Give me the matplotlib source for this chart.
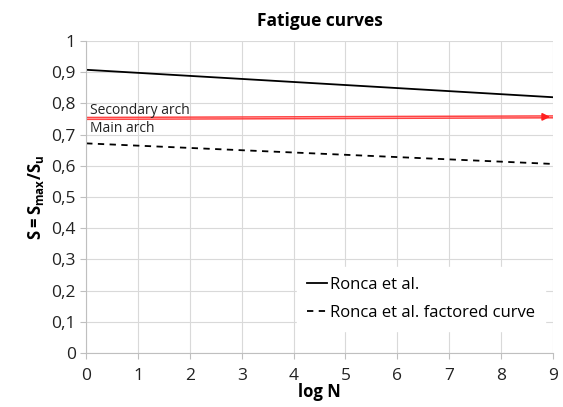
import numpy as np
import matplotlib
matplotlib.use("Agg")
from matplotlib import pyplot as plt

# Daten
log_n = [0, 9]
ronca = [0.908, 0.820]
ronca_fact = [0.672, 0.606]
sec_arch = [0.755, 0.760]
main_arch = [0.749, 0.754]
x_ticks = list(range(10))
y_ticks = [0, 0.1, 0.2, 0.3, 0.4, 0.5, 0.6, 0.7, 0.8, 0.9, 1.0]
y_ticklabels = ["0", "0,1", "0,2", "0,3", "0,4", "0,5", "0,6", "0,7", "0,8", "0,9", "1"]

plt.rcParams['font.family'] = 'Open Sans'
plt.rcParams['mathtext.fontset'] = 'custom'
plt.rcParams['mathtext.rm'] = 'Open Sans'
plt.rcParams['mathtext.bf'] = 'Open Sans:bold'

fig = plt.figure(figsize=(5.63, 4.07), dpi=100)
ax = fig.add_axes([0.153, 0.133, 0.829, 0.766])

ax.plot(log_n, ronca, color='black', lw=1.3, label='Ronca et al.')
ax.plot(log_n, ronca_fact, color='black', lw=1.3, ls=(0, (3.5, 3)),
        label='Ronca et al. factored curve')

# Rote Pfeile (Haupt- und Nebenbogen)
ax.plot(log_n, sec_arch, color='#ff3030', lw=1.1, alpha=0.9)
ax.plot(log_n, main_arch, color='#ff3030', lw=1.1, alpha=0.9)
ax.annotate('', xy=(log_n[1], sec_arch[1] - 0.003), xytext=(8.8, sec_arch[1] - 0.003),
            arrowprops=dict(arrowstyle='-|>', color='#ff2020', lw=1.2, mutation_scale=11))
ax.text(0.08, 0.778, 'Secondary arch', fontsize=10, color='#222222', va='center')
ax.text(0.08, 0.720, 'Main arch', fontsize=10, color='#222222', va='center')

ax.set_xlim(0, 9)
ax.set_ylim(0, 1)
ax.set_xticks(x_ticks)
ax.set_yticks(y_ticks)
ax.set_yticklabels(y_ticklabels)
ax.tick_params(axis='both', labelsize=12.5, color='#bfbfbf', length=4, labelcolor='#222222')
ax.tick_params(axis='x', pad=7)
ax.grid(True, color='#d9d9d9', lw=0.8)
ax.set_axisbelow(True)
for s in ['top', 'right']:
    ax.spines[s].set_visible(False)
for s in ['left', 'bottom']:
    ax.spines[s].set_color('#bfbfbf')

ax.set_title('Fatigue curves', fontsize=12.5, fontweight='bold', pad=11)
ax.set_xlabel('log N', fontsize=12, fontweight='bold', labelpad=-1)
ax.set_ylabel(r'$\mathbf{S = S_{max}/S_u}$', fontsize=12, labelpad=4)

leg = ax.legend(loc='lower left', bbox_to_anchor=(0.435, 0.045), fontsize=12,
                handlelength=1.2, handletextpad=0.15, labelspacing=0.7,
                frameon=True, fancybox=False, borderpad=0.6)
leg.get_frame().set_edgecolor('white')
leg.get_frame().set_facecolor('white')
leg.get_frame().set_alpha(1)

fig.savefig('out.png', dpi=100)
